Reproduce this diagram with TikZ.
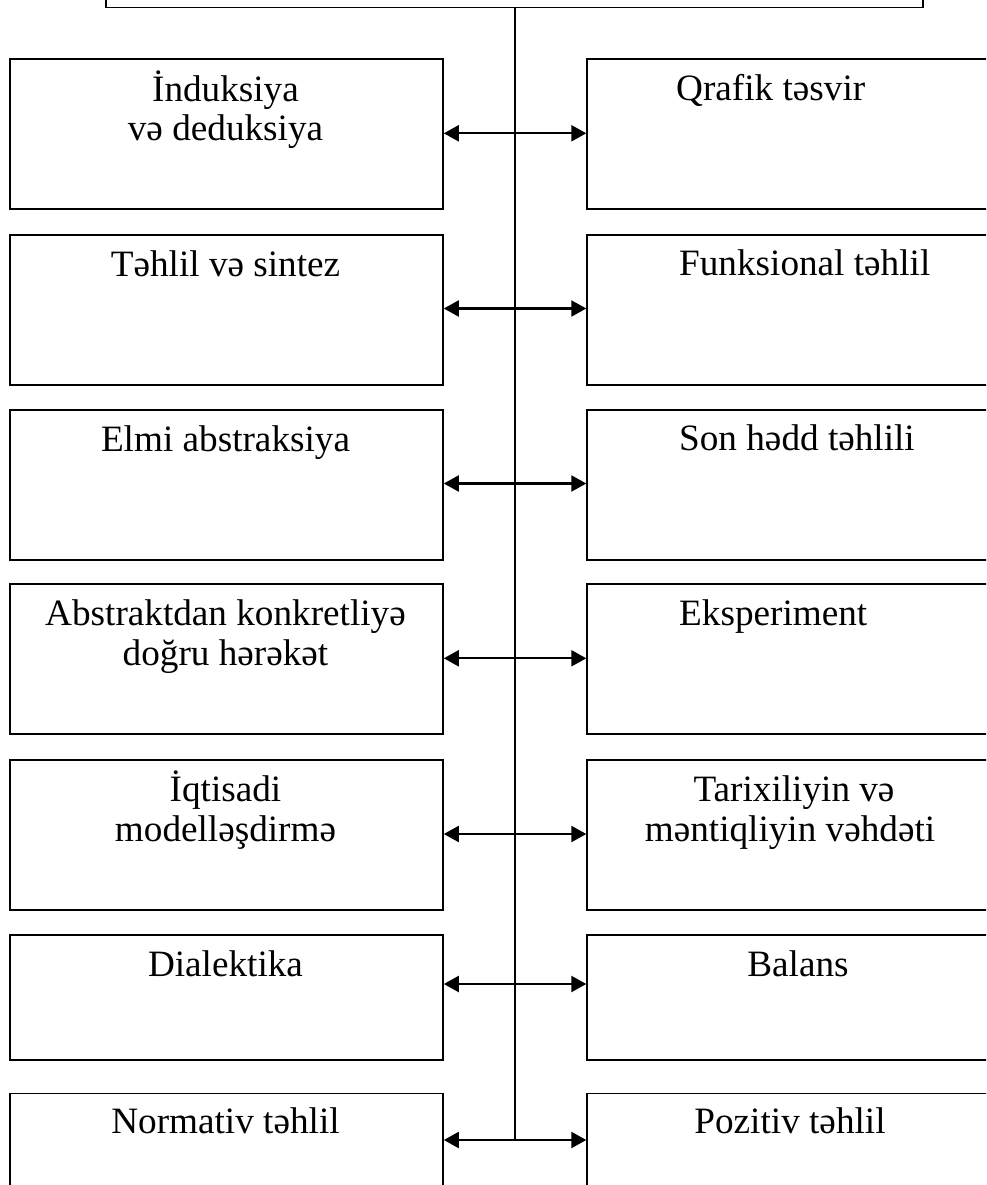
\documentclass[tikz,border=0pt]{standalone}
\usepackage{fontspec}
\setmainfont{Liberation Serif}
\usetikzlibrary{arrows.meta}
\begin{document}
\begin{tikzpicture}[x=1pt,y=-1pt,
  box/.style={draw=black, line width=1.8pt, rectangle, inner sep=0pt, anchor=north west},
  lbox/.style={box, minimum width=433pt},
  rbox/.style={box, minimum width=520pt},
  txt/.style={inner sep=0pt, font=\fontsize{37.2}{40}\selectfont, anchor=base},
  rtxt/.style={txt, anchor=base west},
  spine/.style={line width=1.6pt},
  arr/.style={line width=2.2pt, {Triangle[length=15pt,width=16pt]}-{Triangle[length=15pt,width=16pt]}}
]
\useasboundingbox (0,0) rectangle (986,1185);
\clip (0,0) rectangle (986,1185);
% top box
\node[box, minimum width=817pt, minimum height=120pt, anchor=south west] (top) at (105,8.5) {};
% left boxes
\node[lbox, minimum height=150pt] (l1) at (9,58.3) {};
\node[lbox, minimum height=150pt] (l2) at (9,233.7) {};
\node[lbox, minimum height=150pt] (l3) at (9,408.7) {};
\node[lbox, minimum height=150pt] (l4) at (9,583.3) {};
\node[lbox, minimum height=150pt] (l5) at (9,759) {};
\node[lbox, minimum height=125pt] (l6) at (9,934) {};
\node[lbox, minimum height=150pt] (l7) at (9,1092.5) {};
% right boxes
\node[rbox, minimum height=150pt] (r1) at (586.3,58.3) {};
\node[rbox, minimum height=150pt] (r2) at (586.3,233.7) {};
\node[rbox, minimum height=150pt] (r3) at (586.3,408.7) {};
\node[rbox, minimum height=150pt] (r4) at (586.3,583.3) {};
\node[rbox, minimum height=150pt] (r5) at (586.3,759) {};
\node[rbox, minimum height=125pt] (r6) at (586.3,934) {};
\node[rbox, minimum height=150pt] (r7) at (586.3,1092.5) {};
% left texts
\node[txt] (t1a) at (225.5,101.7) {İnduksiya};
\node[txt] (t1b) at (225.5,140.5) {və deduksiya};
\node[txt] (t2) at (225.5,276) {Təhlil və sintez};
\node[txt] (t3) at (225.5,451) {Elmi abstraksiya};
\node[txt] (t4a) at (225.5,625.7) {Abstraktdan konkretliyə};
\node[txt] (t4b) at (225.5,665) {doğru hərəkət};
\node[txt] (t5a) at (225.5,801.5) {İqtisadi};
\node[txt] (t5b) at (225.5,841.5) {modelləşdirmə};
\node[txt] (t6) at (225.5,976) {Dialektika};
\node[txt] (t7) at (225.5,1133) {Normativ təhlil};
% right texts
\node[rtxt] (s1) at (676,101) {Qrafik təsvir};
\node[rtxt] (s2) at (679,275) {Funksional təhlil};
\node[rtxt] (s3) at (679,450) {Son hədd təhlili};
\node[rtxt] (s4) at (679,625) {Eksperiment};
\node[txt] (s5a) at (794,801.7) {Tarixiliyin və};
\node[txt] (s5b) at (790,841.7) {məntiqliyin vəhdəti};
\node[txt] (s6) at (798,976) {Balans};
\node[txt] (s7) at (790,1133) {Pozitiv təhlil};
% spine coordinates
\coordinate (a1) at (514.7,133.3);
\coordinate (a2) at (514.7,308.5);
\coordinate (a3) at (514.7,483.5);
\coordinate (a4) at (514.7,658.3);
\coordinate (a5) at (514.7,834);
\coordinate (a6) at (514.7,984);
\coordinate (a7) at (514.7,1140);
\draw[spine] (a7 |- top.south) -- (a7);
\foreach \i in {1,...,7} {
  \draw[arr] (a\i -| l\i.east) -- (a\i -| r\i.west);
}
\end{tikzpicture}
\end{document}
